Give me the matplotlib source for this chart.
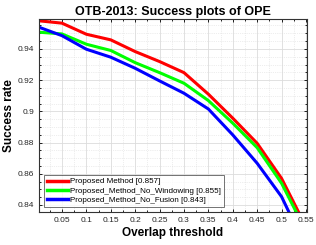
import numpy as np
import matplotlib
matplotlib.use('Agg')
import matplotlib.pyplot as plt
from matplotlib.ticker import MultipleLocator

thresholds = [0.003, 0.05, 0.1, 0.15, 0.2, 0.25, 0.3, 0.35, 0.4, 0.45, 0.5, 0.55]
proposed = [0.958, 0.9565, 0.9494, 0.9458, 0.9383, 0.9319, 0.9248, 0.911, 0.8956, 0.8795, 0.857, 0.826]
no_windowing = [0.9507, 0.9496, 0.943, 0.939, 0.9312, 0.9248, 0.918, 0.9069, 0.8924, 0.8767, 0.8539, 0.8232]
no_fusion = [0.9539, 0.9485, 0.9398, 0.9347, 0.9276, 0.9195, 0.9116, 0.9015, 0.8849, 0.8667, 0.8453, 0.8126]

labels = ['Proposed Method [0.857]',
          'Proposed_Method_No_Windowing [0.855]',
          'Proposed_Method_No_Fusion [0.843]']
colors = ['#ff0000', '#00ff00', '#0000ff']

plt.rcParams['font.family'] = ['Liberation Sans', 'DejaVu Sans']

fig = plt.figure(figsize=(3.16, 2.45), dpi=100)
ax = fig.add_axes([0.1234, 0.1347, 0.848, 0.788])

for ys, lab, c in zip([proposed, no_windowing, no_fusion], labels, colors):
    ax.plot(thresholds, ys, color=c, linewidth=2.2, label=lab)

ax.set_xlim(0.003, 0.552)
ax.set_ylim(0.8355, 0.9592)
ax.xaxis.set_minor_locator(MultipleLocator(0.025))
ax.yaxis.set_minor_locator(MultipleLocator(0.005))
ax.set_xticks(np.arange(0.05, 0.551, 0.05))
ax.set_xticklabels(['0.05', '0.1', '0.15', '0.2', '0.25', '0.3', '0.35', '0.4', '0.45', '0.5', '0.55'])
ax.set_yticks([0.84, 0.86, 0.88, 0.9, 0.92, 0.94])
ax.set_yticklabels(['0.84', '0.86', '0.88', '0.9', '0.92', '0.94'])

ax.grid(which='major', color='#dcdcdc', linewidth=0.6, linestyle='-')
ax.grid(which='minor', color='#dcdcdc', linewidth=0.5, linestyle=':')
ax.tick_params(which='both', direction='in', top=True, right=True, labelsize=6,
               length=2.5, width=0.6, labelcolor='#262626')
ax.tick_params(which='minor', length=1.5)
for s in ax.spines.values():
    s.set_linewidth(0.8)
    s.set_color('#333333')

ax.set_title('OTB-2013: Success plots of OPE', fontsize=9, fontweight='bold', pad=3)
ax.set_xlabel('Overlap threshold', fontsize=8.5, fontweight='bold', labelpad=2)
ax.set_ylabel('Success rate', fontsize=8.5, fontweight='bold', labelpad=2)

leg = ax.legend(loc='lower left', fontsize=5.8, frameon=True, fancybox=False,
                edgecolor='#333333', handlelength=2.6, handletextpad=0.25,
                borderpad=0.4, labelspacing=0.2, borderaxespad=0.6)
leg.get_frame().set_linewidth(0.6)
for line in leg.get_lines():
    line.set_linewidth(2.5)

fig.savefig('out.png', dpi=100)
